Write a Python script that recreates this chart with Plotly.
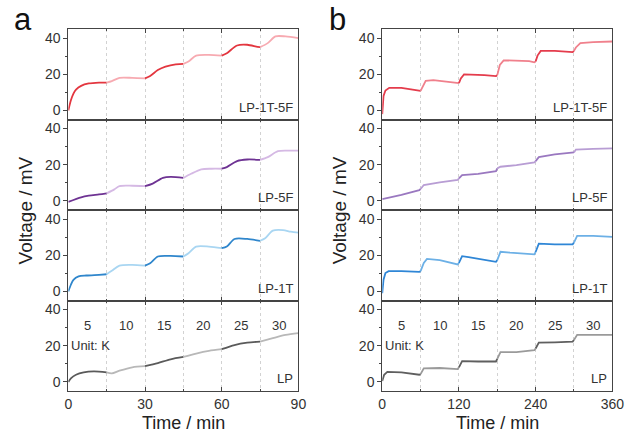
import plotly.graph_objects as go

# ---------------- data ----------------
# panel a : time 0-90 min, steps every 15 min
seg_a = [0, 15, 30, 45, 60, 75, 90]
seg_b = [0, 60, 120, 180, 240, 300, 360]
labels = ["LP-1T-5F", "LP-5F", "LP-1T", "LP"]
steps_K = ["5", "10", "15", "20", "25", "30"]

ta_1t5f = [0, 1, 2, 3, 5, 8, 12, 15, 17, 20, 25, 30, 32, 35, 38, 42, 45, 47, 50, 55, 60, 62, 66, 70, 74, 75, 78, 81, 85, 90]
va_1t5f = [0, 5.6, 9.3, 11.5, 13.6, 14.9, 15.4, 15.4, 16.2, 18, 18, 17.7, 19, 22.3, 24.2, 25.5, 25.7, 27, 30.3, 30.7, 30.3, 31.6, 35.9, 36.3, 35.1, 35, 37.2, 40.9, 40.9, 40]

ta_5f = [0, 5, 8, 12, 15, 18, 20, 25, 30, 33, 37, 40, 45, 48, 52, 56, 60, 62, 66, 70, 75, 78, 82, 86, 90]
va_5f = [-0.5, 2, 2.9, 3.6, 4.2, 6.4, 8.2, 8.4, 8.2, 9.6, 12.7, 13.3, 12.7, 15, 17.5, 17.8, 17.8, 18.7, 22, 22.9, 22.7, 24.2, 27.5, 27.8, 27.8]

ta_1t = [0, 1, 2, 4, 7, 12, 15, 17, 20, 25, 30, 32, 35, 40, 45, 47, 50, 55, 60, 62, 65, 70, 75, 77, 80, 84, 87, 90]
va_1t = [0, 3.7, 6.4, 8.3, 8.8, 9.2, 9.5, 11.4, 14.3, 14.7, 14.3, 15.6, 19.3, 19.6, 19.3, 21.1, 24.8, 24.8, 23.9, 24.8, 29, 29, 28, 29.4, 33.6, 33.9, 33, 32.5]

ta_lp = [0, 1, 3, 6, 10, 15, 17, 20, 25, 30, 35, 40, 45, 50, 55, 60, 65, 70, 75, 80, 85, 90]
va_lp = [0, 2, 4, 5.3, 5.8, 5.3, 4.7, 6.2, 8.1, 8.7, 10.4, 12.5, 13.8, 15.7, 17.2, 18.1, 20.4, 21.7, 22.3, 24.2, 26, 27]

# panel b : time 0-360 min, steps every 60 min
tb_1t5f = [0, 2, 5, 11, 30, 45, 58, 60, 63, 68, 80, 100, 118, 120, 123, 128, 140, 160, 178, 180, 184, 190, 210, 230, 238, 240, 243, 248, 270, 298, 300, 303, 310, 330, 360]
vb_1t5f = [-2, 8, 11, 12.5, 12.5, 11.7, 10.6, 10.8, 13, 16.4, 16.7, 15.8, 14.9, 15.1, 17.7, 19.9, 19.9, 19.5, 19, 19.5, 25.1, 27.7, 27.7, 27.3, 26.6, 27, 30.3, 32.9, 32.9, 32.2, 32.9, 34.8, 37.2, 37.8, 38.1]

tb_5f = [0, 30, 58, 60, 65, 90, 118, 120, 125, 150, 178, 180, 185, 210, 238, 240, 245, 270, 298, 300, 303, 330, 360]
vb_5f = [1, 3.3, 6, 6.6, 8.8, 10.3, 11.6, 12.5, 14.3, 15, 16.5, 18, 18.9, 19.8, 21.3, 22, 24.2, 25.7, 26.6, 26.8, 28.4, 28.8, 29]

tb_1t = [0, 2, 5, 10, 30, 58, 60, 65, 70, 90, 118, 120, 125, 135, 160, 178, 180, 185, 200, 238, 240, 245, 270, 298, 300, 305, 330, 360]
vb_1t = [-1, 6.5, 10.2, 11.2, 11.2, 10.8, 11.2, 15.8, 18, 17.3, 14.9, 15.8, 19.5, 19, 17.7, 16.4, 17.3, 21.9, 21.4, 20.5, 21.8, 26.4, 26, 26, 27, 30.7, 30.7, 30.1]

tb_lp = [0, 3, 8, 30, 58, 60, 65, 90, 118, 120, 125, 150, 178, 180, 185, 210, 238, 240, 245, 270, 298, 300, 305, 330, 360]
vb_lp = [0.5, 4, 5.6, 5.3, 4, 4.3, 7.5, 7.7, 7.1, 8.1, 11.5, 11.3, 11.3, 12.8, 16.5, 16.5, 17.5, 18.5, 21.7, 21.9, 22.3, 23.2, 26, 26, 26]

# ---------------- styling ----------------
cols_a = [("#e3363f", "#f7aab1"), ("#6e3393", "#d5b9e4"), ("#2f86cc", "#a9d6f2"), ("#5a5a5a", "#b8b8b8")]
cols_b = [("#e43c4c", "#f0808c"), ("#9a78c0", "#b89dd4"), ("#2f86d6", "#6cb0e6"), ("#5f5f5f", "#9a9a9a")]
FONT = "Arial, Liberation Sans, sans-serif"
TXT = "#333333"

W, H = 636, 435
px_a = (66, 302)
px_b = (388, 624)
ybounds = [29, 119.5, 210, 300.5, 391]

data_a = [(ta_1t5f, va_1t5f), (ta_5f, va_5f), (ta_1t, va_1t), (ta_lp, va_lp)]
data_b = [(tb_1t5f, vb_1t5f), (tb_5f, vb_5f), (tb_1t, vb_1t), (tb_lp, vb_lp)]

fig = go.Figure()
layout = {}


def add_panel(col, data, segs, colors, xr, xd, xmin, shape):
    for r in range(4):
        idx = col * 4 + r + 1
        xa = "x" if idx == 1 else f"x{idx}"
        ya = "y" if idx == 1 else f"y{idx}"
        t, v = data[r]
        for i in range(len(segs) - 1):
            tt = [a for a in t if segs[i] <= a <= segs[i + 1]]
            vv = [b for a, b in zip(t, v) if segs[i] <= a <= segs[i + 1]]
            fig.add_trace(go.Scatter(
                x=tt, y=vv, mode="lines", xaxis=xa, yaxis=ya,
                line=dict(color=colors[r][i % 2], width=1.8, shape=shape,
                          smoothing=0.8 if shape == "spline" else None),
                showlegend=False, hoverinfo="skip"))
        top, bot = ybounds[r], ybounds[r + 1]
        layout["xaxis" if idx == 1 else f"xaxis{idx}"] = dict(
            domain=[xr[0] / W, xr[1] / W], anchor=ya, range=[0, segs[-1]],
            showline=True, linecolor="#444", linewidth=1, mirror="ticks",
            ticks="inside", ticklen=4, tickcolor="#444", dtick=xd,
            showticklabels=(r == 3), tickfont=dict(family=FONT, size=14, color=TXT),
            showgrid=True, gridcolor="#d2d2d2", griddash="dot", gridwidth=1,
            minor=dict(dtick=xmin, ticks="inside", ticklen=2, tickcolor="#444",
                       showgrid=True, gridcolor="#d2d2d2", griddash="dot"),
            zeroline=False, fixedrange=True)
        layout["yaxis" if idx == 1 else f"yaxis{idx}"] = dict(
            domain=[1 - bot / H, 1 - top / H], anchor=xa, range=[-5, 45],
            showline=True, linecolor="#444", linewidth=1, mirror=True,
            ticks="outside", ticklen=4, tickcolor="#444", tickvals=[0, 20, 40],
            tickfont=dict(family=FONT, size=14, color=TXT),
            minor=dict(dtick=10, ticks="outside", ticklen=2, tickcolor="#444"),
            showgrid=False, zeroline=False, fixedrange=True)


add_panel(0, data_a, seg_a, cols_a, px_a, 30, 15, "spline")
add_panel(1, data_b, seg_b, cols_b, px_b, 120, 60, "linear")

ann = []
for col in range(2):
    for r in range(4):
        idx = col * 4 + r + 1
        xa = "x" if idx == 1 else f"x{idx}"
        ya = "y" if idx == 1 else f"y{idx}"
        ann.append(dict(text=labels[r], xref=f"{xa} domain", yref=f"{ya} domain",
                        x=0.985, y=0.03, xanchor="right", yanchor="bottom", showarrow=False,
                        font=dict(family=FONT, size=13, color=TXT)))
    segs = seg_a if col == 0 else seg_b
    xa = "x4" if col == 0 else "x8"
    ya = "y4" if col == 0 else "y8"
    for i, s in enumerate(steps_K):
        ann.append(dict(text=s, xref=xa, yref=ya, x=(segs[i] + segs[i + 1]) / 2, y=31,
                        xanchor="center", yanchor="middle",
                        showarrow=False, font=dict(family=FONT, size=13, color=TXT)))
    ann.append(dict(text="Unit: K", xref=f"{xa} domain", yref=ya, x=0.005, y=20,
                    xanchor="left", yanchor="middle", showarrow=False,
                    font=dict(family=FONT, size=13, color=TXT)))
    pxr = px_a if col == 0 else px_b
    ann.append(dict(text="Time / min", xref="paper", yref="paper", x=(pxr[0] + pxr[1]) / 2 / W,
                    y=0, xanchor="center", yanchor="bottom", showarrow=False,
                    font=dict(family=FONT, size=18, color="#222")))
    ann.append(dict(text="Voltage / mV", xref="paper", yref="paper", x=(pxr[0] - 44) / W,
                    y=1 - 210 / H, xanchor="center", yanchor="middle", textangle=-90,
                    showarrow=False, font=dict(family=FONT, size=19, color="#222")))
    ann.append(dict(text="a" if col == 0 else "b", xref="paper", yref="paper",
                    x=(pxr[0] - 46) / W, y=1, xanchor="center", yanchor="top",
                    showarrow=False, font=dict(family=FONT, size=31, color="#111")))

fig.update_layout(**layout)
fig.update_layout(width=W, height=H, margin=dict(l=0, r=0, t=0, b=0),
                  paper_bgcolor="white", plot_bgcolor="white", annotations=ann,
                  showlegend=False)
fig.write_html("out.html", config={"displayModeBar": False})
